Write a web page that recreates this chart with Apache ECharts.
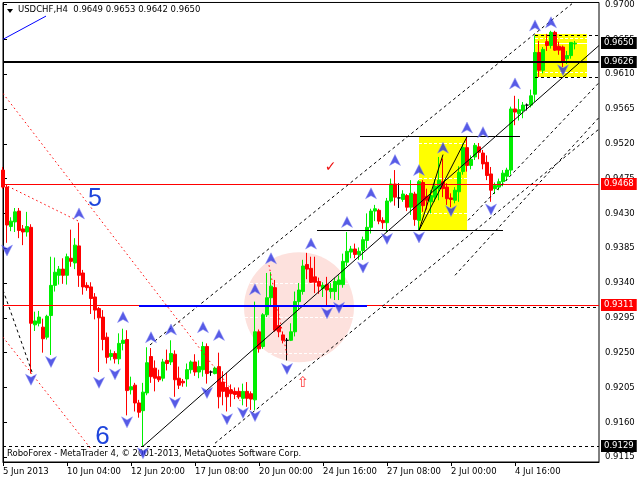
<!DOCTYPE html>
<html><head><meta charset="utf-8">
<script src="https://cdn.jsdelivr.net/npm/echarts@6/dist/echarts.min.js"></script>
<style>html,body{margin:0;padding:0;background:#fff}#c{width:640px;height:480px}</style>
</head><body><div id="c"></div>
<script>
// ---- candle data (USDCHF H4), index = bar number ----
const opens = [
 .9486,.9464,.9413,.9419,.9433,.9410,.9406,.9412,.9286,.9288,
 .9283,.9270,.9298,.9337,.9350,.9358,.9350,.9372,.9366,.9388,
 .9353,.9337,.9335,.9322,.9307,.9296,.9270,.9245,.9249,.9242,
 .9262,.9267,.9202,.9208,.9185,.9175,.9198,.9245,.9230,.9219,
 .9217,.9240,.9238,.9248,.9217,.9213,.9216,.9228,.9238,.9225,
 .9228,.9258,.9225,.9223,.9232,.9212,.9205,.9202,.9200,.9200,
 .9191,.9200,.9197,.9189,.9277,.9258,.9299,.9321,.9334,.9285,
 .9273,.9266,.9266,.9277,.9316,.9329,.9364,.9359,.9348,.9342,
 .9333,.9338,.9329,.9329,.9338,.9338,.9367,.9380,.9384,.9377,
 .9382,.9395,.9412,.9433,.9434,.9421,.9418,.9446,.9468,.9450,
 .9448,.9453,.9438,.9455,.9421,.9470,.9452,.9445,.9451,.9462,
 .9471,.9464,.9450,.9447,.9458,.9484,.9515,.9492,.9503,.9516,
 .9508,.9496,.9481,.9462,.9464,.9471,.9478,.9486,.9565,.9559,
 .9563,.9570,.9570,.9584,.9638,.9615,.9652,.9647,.9664,.9646,
 .9645,.9630,.9634,.9649
];
const highs = [
 .9490,.9467,.9425,.9437,.9437,.9415,.9432,.9416,.9303,.9304,
 .9294,.9299,.9374,.9373,.9362,.9372,.9378,.9409,.9398,.9418,
 .9357,.9341,.9341,.9327,.9309,.9305,.9276,.9254,.9252,.9275,
 .9281,.9279,.9219,.9211,.9189,.9211,.9257,.9256,.9240,.9228,
 .9242,.9254,.9266,.9253,.9232,.9216,.9236,.9240,.9248,.9240,
 .9264,.9262,.9227,.9232,.9250,.9226,.9224,.9209,.9205,.9205,
 .9210,.9212,.9200,.9316,.9280,.9301,.9353,.9354,.9344,.9309,
 .9277,.9269,.9288,.9329,.9340,.9370,.9379,.9374,.9374,.9347,
 .9341,.9348,.9340,.9347,.9350,.9378,.9406,.9388,.9391,.9386,
 .9400,.9430,.9436,.9441,.9436,.9425,.9450,.9475,.9486,.9469,
 .9460,.9455,.9473,.9458,.9473,.9473,.9462,.9460,.9474,.9503,
 .9501,.9469,.9456,.9464,.9491,.9520,.9529,.9505,.9521,.9521,
 .9512,.9505,.9490,.9470,.9475,.9486,.9489,.9568,.9582,.9578,
 .9574,.9572,.9590,.9660,.9653,.9645,.9662,.9666,.9666,.9652,
 .9647,.9640,.9651,.9653
];
const lows = [
 .9462,.9392,.9407,.9406,.9398,.9389,.9400,.9223,.9278,.9284,
 .9250,.9267,.9247,.9329,.9338,.9339,.9338,.9361,.9358,.9335,
 .9325,.9330,.9300,.9293,.9225,.9253,.9236,.9240,.9236,.9235,
 .9253,.9169,.9196,.9174,.9166,.9129,.9195,.9211,.9200,.9212,
 .9213,.9227,.9234,.9193,.9203,.9206,.9206,.9223,.9220,.9217,
 .9219,.9210,.9220,.9222,.9178,.9182,.9174,.9180,.9190,.9190,
 .9182,.9180,.9176,.9176,.9250,.9255,.9296,.9310,.9277,.9270,
 .9262,.9240,.9265,.9271,.9306,.9325,.9345,.9340,.9327,.9326,
 .9322,.9311,.9320,.9318,.9318,.9334,.9362,.9372,.9372,.9370,
 .9370,.9385,.9404,.9420,.9416,.9410,.9406,.9444,.9440,.9437,
 .9445,.9433,.9428,.9414,.9408,.9432,.9435,.9430,.9445,.9447,
 .9451,.9441,.9438,.9443,.9445,.9480,.9484,.9487,.9499,.9500,
 .9487,.9473,.9445,.9455,.9460,.9465,.9472,.9480,.9544,.9550,
 .9553,.9563,.9567,.9574,.9606,.9611,.9640,.9643,.9640,.9635,
 .9619,.9623,.9630,.9642
];
const closes = [
 .9464,.9415,.9420,.9432,.9408,.9406,.9413,.9288,.9291,.9296,
 .9268,.9297,.9337,.9354,.9358,.9350,.9374,.9368,.9389,.9350,
 .9335,.9334,.9320,.9305,.9295,.9267,.9244,.9249,.9242,.9262,
 .9266,.9201,.9206,.9185,.9173,.9199,.9237,.9219,.9217,.9215,
 .9238,.9236,.9249,.9215,.9208,.9211,.9228,.9238,.9225,.9232,
 .9258,.9223,.9225,.9230,.9193,.9200,.9193,.9197,.9196,.9193,
 .9200,.9191,.9190,.9277,.9255,.9299,.9321,.9336,.9279,.9277,
 .9266,.9266,.9277,.9316,.9331,.9362,.9358,.9341,.9341,.9336,
 .9337,.9331,.9333,.9342,.9344,.9368,.9381,.9384,.9377,.9381,
 .9396,.9412,.9433,.9436,.9420,.9418,.9446,.9468,.9451,.9450,
 .9455,.9438,.9456,.9422,.9471,.9440,.9447,.9453,.9465,.9473,
 .9462,.9449,.9448,.9460,.9483,.9515,.9492,.9500,.9518,.9509,
 .9494,.9479,.9460,.9466,.9471,.9482,.9486,.9565,.9561,.9564,
 .9570,.9570,.9582,.9638,.9615,.9642,.9647,.9664,.9641,.9641,
 .9626,.9634,.9651,.9650
];

// ---- axes ----
const barSlots = 150;
const xTickIdx = [0,16,32,48,64,80,96,112,128];
const xTickText = ['5 Jun 2013','10 Jun 04:00','12 Jun 20:00','17 Jun 08:00','20 Jun 00:00','24 Jun 16:00','27 Jun 08:00','2 Jul 00:00','4 Jul 16:00'];
const yTicks = [0.9115,0.9160,0.9205,0.9250,0.9295,0.9340,0.9385,0.9430,0.9475,0.9520,0.9565,0.9610,0.9655,0.9700];
const yMin = 0.91087, yMax = 0.97026;

// ---- price tags / horizontal levels ----
const tagPrices = [0.9650, 0.9626, 0.9468, 0.9311, 0.9129];
const levelBlackThick = [[0,.9626,149,.9626]];
const levelRed = [[0,.9468,149,.9468],[0,.9311,149,.9311]];
const levelBlackDashed = [[0,.9129,149,.9129]];

// ---- fractal arrows (bar index, price) ----
const upX = [19,30,37,42,50,54,63,67,77,86,92,98,104,110,116,120,128,133,137];
const upP = [.9430,.9296,.9270,.9280,.9283,.9273,.9332,.9372,.9391,.9419,.9456,.9499,.9486,.9515,.9541,.9535,.9598,.9673,.9677];
const downX = [1,7,12,24,28,31,35,43,51,56,60,63,71,81,84,90,96,104,112,122,140];
const downP = [.9382,.9215,.9238,.9211,.9222,.9160,.9120,.9185,.9198,.9164,.9172,.9168,.9229,.9301,.9308,.9360,.9397,.9399,.9433,.9435,.9615];

// ---- drawn objects: [bar1, price1, bar2, price2] ----
const channelSolid = [[35,.9129,149,.9647],[104,.9408,116,.9529],[104,.9408,110,.9506]];
const boxLevels = [[89.25,.9529,129.25,.9529],[78.5,.9408,125,.9408]];
const dashedBlack = [[36.75,.9260,142.25,.9701],[53,.9133,149,.9539],[116.25,.9421,149,.9599],[113,.9350,149,.9554],[0,.9331,7.25,.9225],[95,.93085,149,.93085],[133,.9660,149,.9660],[133,.9606,149,.9606]];
const dottedRed = [[0,.9585,59.25,.9188],[1.25,.9465,19.25,.9419],[0,.9270,22.25,.9124],[66.5,.9363,71,.9247]];
const blueThin = [[0,.9655,10.75,.9685]];
const blueThick = [[34,.9310,91,.9310]];
const whiteDashed = [[104,.95205,116,.95205],[104,.94754,116,.94754],[104,.94302,116,.94302],[133,.96561,146,.96561],[133,.96122,146,.96122],[61.75,.93398,86.25,.93398],[60.5,.92959,87.5,.92959],[66.5,.92494,81.5,.92494]];
const whiteSolid = [[133,.96496,146,.96496]];
const yellowBoxes = [[104,.9408,116,.9529],[133,.9606,146,.9662]];
const pinkCircle = [[74,.93088,13.75]];
const noteX = [23, 24.9, 81.9, 75];
const noteP = [.9448, .9141, .9490, .9211];
const noteText = ['5', '6', '\u2713', '\u21E7'];

// ---------------------------------------------------------------
const FONT = 'DejaVu Sans';
const noteStyles = [
  {fill:'#1f45dc', font:'25px "Liberation Sans"'},
  {fill:'#1f45dc', font:'26px "Liberation Sans"'},
  {fill:'#ee1111', font:'bold 14px "DejaVu Sans"'},
  {fill:'#ff3b3b', font:'15px "DejaVu Sans"'}
];
const tagBg = ['#000', '#000', '#ff0000', '#ff0000', '#000'];

const xCats = Array.from({length: barSlots}, (_, i) => String(i));
const candles = opens.map((o, i) => {
  const v = [o, closes[i], lows[i], highs[i]];
  return o === closes[i]
    ? {value: v, itemStyle: {color:'#000', color0:'#000', borderColor:'#000', borderColor0:'#000'}}
    : v;
});

function crisp(a, b, w) {
  if (Math.abs(a[1] - b[1]) < 0.01) {
    const y = (w % 2 === 1) ? Math.round(a[1] - 0.5) + 0.5 : Math.round(a[1]);
    a[1] = y; b[1] = y;
  }
}
function segSeries(list, style, z) {
  return {
    type:'custom', xAxisIndex:1, yAxisIndex:0, z, silent:true, clip:true,
    encode:{x:[0,2], y:[1,3]}, data:list,
    renderItem:(p, api) => {
      const a = api.coord([api.value(0), api.value(1)]);
      const b = api.coord([api.value(2), api.value(3)]);
      crisp(a, b, style.lineWidth || 1);
      return {type:'line', shape:{x1:a[0], y1:a[1], x2:b[0], y2:b[1]}, style:Object.assign({fill:null}, style)};
    }
  };
}

const arrowPath = 'path://M6,0 L12,12 L6,8.6 L0,12 Z';
const arrowStyle = {color:'#2d32e0', borderColor:'#8c8ff5', borderWidth:0.6};

const option = {
  animation:false,
  backgroundColor:'#fff',
  grid:{left:3, right:41, top:2, bottom:18, show:true, borderColor:'#000', borderWidth:1, backgroundColor:'#fff'},
  xAxis:[
    {type:'category', data:xCats, boundaryGap:false, gridIndex:0,
     axisLine:{show:true, lineStyle:{color:'#000', width:1}},
     axisTick:{show:true, interval:(i)=>xTickIdx.includes(i), length:4, lineStyle:{color:'#000'}},
     axisLabel:{show:true, interval:(i)=>xTickIdx.includes(i), formatter:(v, i)=>{const k = xTickIdx.indexOf(i); return k >= 0 ? xTickText[k] : '';},
       align:'left', margin:5, color:'#000', fontSize:8.5, fontFamily:FONT},
     splitLine:{show:false}},
    {type:'value', min:0, max:barSlots-1, show:false, gridIndex:0, splitLine:{show:false}}
  ],
  yAxis:[
    {type:'value', position:'right', min:yMin, max:yMax, scale:true, gridIndex:0,
     splitLine:{show:false},
     axisLine:{show:true, lineStyle:{color:'#000'}},
     axisTick:{show:true, customValues:yTicks, length:4, lineStyle:{color:'#000'}},
     axisLabel:{show:true, customValues:yTicks, formatter:(v)=>v.toFixed(4), margin:6, color:'#000', fontSize:8.5, fontFamily:FONT}}
  ],
  graphic:[
    {type:'polygon', shape:{points:[[7,9],[13,9],[10,13]]}, style:{fill:'#000'}},
    {type:'text', left:18, top:5, style:{text:'USDCHF,H4  0.9649 0.9653 0.9642 0.9650', fill:'#000', font:'8.5px "DejaVu Sans"'}},
    {type:'text', left:7, top:449, style:{text:'RoboForex - MetaTrader 4, \u00A9 2001-2013, MetaQuotes Software Corp.', fill:'#000', font:'8.5px "DejaVu Sans"'}}
  ],
  series:[
    // background shapes
    {type:'custom', xAxisIndex:1, yAxisIndex:0, z:1, silent:true, clip:true, data:pinkCircle,
     encode:{x:0, y:1},
     renderItem:(p, api)=>{
       const c = api.coord([api.value(0), api.value(1)]);
       const e = api.coord([api.value(0) + api.value(2), api.value(1)]);
       return {type:'circle', shape:{cx:c[0], cy:c[1], r:Math.abs(e[0]-c[0])}, style:{fill:'#fde1dd'}};
     }},
    {type:'custom', xAxisIndex:1, yAxisIndex:0, z:1, silent:true, clip:true, data:yellowBoxes,
     encode:{x:[0,2], y:[1,3]},
     renderItem:(p, api)=>{
       const a = api.coord([api.value(0), api.value(1)]);
       const b = api.coord([api.value(2), api.value(3)]);
       return {type:'rect', shape:{x:Math.round(Math.min(a[0],b[0])), y:Math.round(Math.min(a[1],b[1])), width:Math.round(Math.abs(b[0]-a[0])), height:Math.round(Math.abs(b[1]-a[1]))}, style:{fill:'#ffff00'}};
     }},
    segSeries(whiteDashed, {stroke:'#ffffff', lineWidth:1, lineDash:[3,2]}, 1.5),
    segSeries(whiteSolid, {stroke:'#ffffff', lineWidth:1}, 1.5),
    // candles
    {type:'candlestick', xAxisIndex:0, yAxisIndex:0, z:2, barWidth:3, data:candles,
     itemStyle:{color:'#00ee00', color0:'#ff0000', borderColor:'#00ee00', borderColor0:'#ff0000', borderWidth:1}},
    // horizontal levels
    segSeries(levelRed, {stroke:'#ff0000', lineWidth:1}, 3),
    segSeries(levelBlackThick, {stroke:'#000', lineWidth:2}, 3),
    segSeries(levelBlackDashed, {stroke:'#000', lineWidth:1, lineDash:[3,3]}, 3),
    // drawn lines
    segSeries(dottedRed, {stroke:'#ff0000', lineWidth:1, lineDash:[1.5,3]}, 3),
    segSeries(dashedBlack, {stroke:'#000', lineWidth:1, lineDash:[3,3]}, 3),
    segSeries(channelSolid, {stroke:'#000', lineWidth:1}, 3),
    segSeries(boxLevels, {stroke:'#000', lineWidth:1}, 3),
    segSeries(blueThin, {stroke:'#0000ff', lineWidth:1}, 3),
    segSeries(blueThick, {stroke:'#0000ff', lineWidth:2}, 3),
    // fractal arrows
    {type:'scatter', xAxisIndex:1, yAxisIndex:0, z:4, silent:true, symbol:arrowPath, symbolSize:[11,11],
     data: upX.map((x, i) => [x, upP[i]]), itemStyle:arrowStyle},
    {type:'scatter', xAxisIndex:1, yAxisIndex:0, z:4, silent:true, symbol:arrowPath, symbolSize:[11,11], symbolRotate:180,
     data: downX.map((x, i) => [x, downP[i]]), itemStyle:arrowStyle},
    // annotations
    {type:'custom', xAxisIndex:1, yAxisIndex:0, z:5, silent:true, clip:false,
     data: noteX.map((x, i) => [x, noteP[i], i]), encode:{x:0, y:1},
     renderItem:(p, api)=>{
       const c = api.coord([api.value(0), api.value(1)]);
       const k = api.value(2);
       return {type:'text', x:c[0], y:c[1], style:Object.assign({text:noteText[k], align:'center', verticalAlign:'middle'}, noteStyles[k])};
     }},
    // price tags on the right scale
    {type:'custom', xAxisIndex:1, yAxisIndex:0, z:10, silent:true, clip:false,
     data: tagPrices.map((v, i) => [barSlots - 1, v, i]), encode:{x:0, y:1},
     renderItem:(p, api)=>{
       const c = api.coord([api.value(0), api.value(1)]);
       const k = api.value(2);
       return {type:'text', x:Math.round(c[0]) + 2, y:Math.round(c[1]), z2:10,
         style:{text:tagPrices[k].toFixed(4), fill:'#fff', backgroundColor:tagBg[k], padding:[2,3,1,3],
                font:'8.5px "DejaVu Sans"', align:'left', verticalAlign:'middle'}};
     }}
  ]
};

const chart = echarts.init(document.getElementById('c'), null, {renderer:'canvas', width:640, height:480});
chart.setOption(option);
</script>
</body></html>
